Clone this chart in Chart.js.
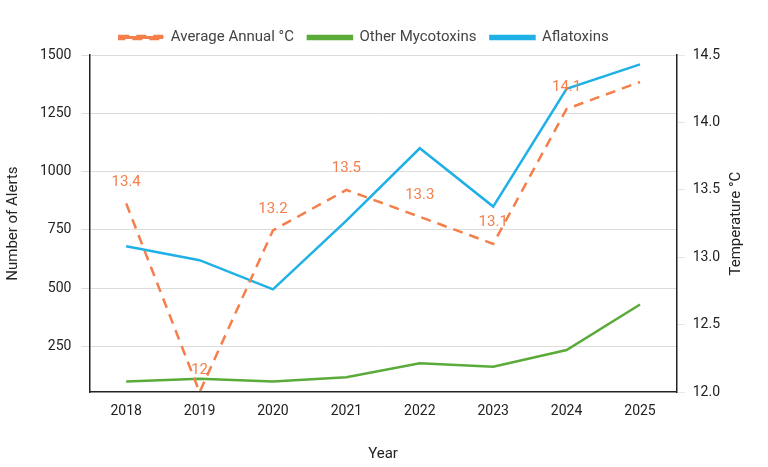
<!DOCTYPE html>
<html>
<head>
<meta charset="utf-8">
<script src="https://cdn.jsdelivr.net/npm/chart.js@4"></script>
<style>
  html, body { margin: 0; padding: 0; background: #fff; }
  #wrap { width: 768px; height: 467px; }
</style>
</head>
<body>
<div id="wrap"><canvas id="alertsChart"></canvas></div>
<script>
// Chart data
const years = ['2018', '2019', '2020', '2021', '2022', '2023', '2024', '2025'];
const avgTemp = [13.4, 12.0, 13.2, 13.5, 13.3, 13.1, 14.1, 14.3];
const otherMycotoxins = [100, 112, 100, 118, 178, 163, 235, 430];
const aflatoxins = [680, 620, 495, 790, 1100, 850, 1355, 1460];

// Temperature labels above each point (last one is left off, as in the source)
const tempLabels = {
    id: 'tempLabels',
    afterDatasetsDraw(chart) {
        const ctx = chart.ctx;
        const meta = chart.getDatasetMeta(0);
        ctx.save();
        ctx.font = '15px Roboto, sans-serif';
        ctx.fillStyle = '#f47f4a';
        ctx.textAlign = 'center';
        ctx.textBaseline = 'bottom';
        meta.data.forEach(function(pt, i) {
            if (i === meta.data.length - 1) return;
            const v = avgTemp[i];
            ctx.fillText(Number.isInteger(v) ? String(v) : v.toFixed(1), pt.x, pt.y - 14);
        });
        // right axis title, reading bottom to top
        const y1 = chart.scales.y1;
        ctx.fillStyle = '#222';
        ctx.textBaseline = 'middle';
        ctx.translate(y1.right + 8, (y1.top + y1.bottom) / 2);
        ctx.rotate(-Math.PI / 2);
        ctx.fillText('Temperature °C', 0, 0);
        ctx.restore();
    }
};

const font = { family: 'Roboto, sans-serif', size: 14 };

new Chart(document.getElementById('alertsChart'), {
    type: 'line',
    data: {
        labels: years,
        datasets: [{
            label: 'Average Annual °C',
            data: avgTemp,
            borderColor: '#f47f4a',
            backgroundColor: '#f47f4a',
            borderDash: [10, 7],
            borderWidth: 2.5,
            pointRadius: 0,
            yAxisID: 'y1'
        }, {
            label: 'Other Mycotoxins',
            data: otherMycotoxins,
            borderColor: '#5aab3a',
            backgroundColor: '#5aab3a',
            borderWidth: 2.5,
            pointRadius: 0,
            yAxisID: 'y'
        }, {
            label: 'Aflatoxins',
            data: aflatoxins,
            borderColor: '#1fb0e6',
            backgroundColor: '#1fb0e6',
            borderWidth: 2.5,
            pointRadius: 0,
            yAxisID: 'y'
        }]
    },
    options: {
        responsive: true,
        maintainAspectRatio: false,
        animation: false,
        layout: { padding: { left: 0, right: 40, top: 16, bottom: 0 } },
        plugins: {
            legend: {
                position: 'top',
                labels: {
                    boxWidth: 44,
                    boxHeight: 3,
                    padding: 14,
                    font: { family: 'Roboto, sans-serif', size: 15 },
                    color: '#444'
                }
            },
            tooltip: { enabled: false }
        },
        scales: {
            x: {
                offset: true,
                grid: { display: false },
                border: { color: '#222', width: 1.5 },
                ticks: { color: '#222', font: font },
                title: { display: true, text: 'Year', color: '#222', padding: { top: 22 },
                         font: { family: 'Roboto, sans-serif', size: 15 } }
            },
            y: {
                position: 'left',
                min: 54,
                max: 1500,
                afterBuildTicks(axis) {
                    axis.ticks = [250, 500, 750, 1000, 1250, 1500].map(v => ({ value: v }));
                },
                grid: { color: '#dcdcdc' },
                border: { color: '#222', width: 1.5 },
                ticks: { color: '#222', font: font, padding: 10, callback: v => String(v) },
                title: { display: true, text: 'Number of Alerts', color: '#222', padding: { bottom: 8 },
                         font: { family: 'Roboto, sans-serif', size: 15 } }
            },
            y1: {
                position: 'right',
                min: 12.0,
                max: 14.5,
                grid: { drawOnChartArea: false },
                border: { color: '#222', width: 1.5 },
                ticks: { stepSize: 0.5, color: '#222', font: font, padding: 8,
                         callback: v => v.toFixed(1) }
            }
        }
    },
    plugins: [tempLabels]
});
</script>
</body>
</html>
